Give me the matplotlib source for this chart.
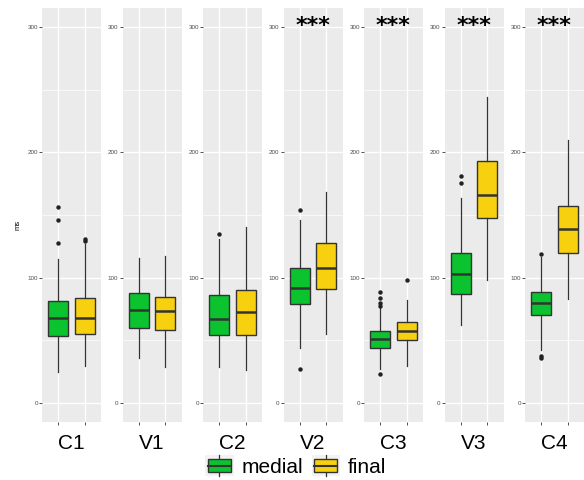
import matplotlib.pyplot as plt
from matplotlib.legend_handler import HandlerBase
from matplotlib.patches import Rectangle
from matplotlib.lines import Line2D

plt.rcParams['font.family'] = ['Liberation Sans', 'DejaVu Sans']

# panels and groups
panels = ['C1', 'V1', 'C2', 'V2', 'C3', 'V3', 'C4']
signif = ['', '', '', '***', '***', '***', '***']
groups = ['medial', 'final']
group_colors = ['#0BC22F', '#F7D10F']

# box stats per panel, [medial, final]
q1 = [[53.5, 55], [60, 58], [54, 54], [79, 91], [44, 50.5], [87, 148], [70, 120]]
med = [[68, 68], [74.5, 73.5], [67, 72.5], [92, 107.5], [51, 57.5], [103, 166], [80, 139]]
q3 = [[81.5, 84], [88, 84.5], [86.5, 90], [108, 128], [57.5, 64.5], [120, 193], [89, 157]]
whislo = [[25, 30], [36, 28.5], [28.5, 26.5], [44, 55.5], [27, 30], [62, 98], [42.5, 83]]
whishi = [[115, 126.5], [116, 117], [131, 140.5], [146, 168], [75.5, 82.5], [163.5, 244], [116.5, 210]]
fliers = [
    [[128, 146, 156], [129.5, 131]],
    [[], []],
    [[134.5], []],
    [[27.5, 154], []],
    [[23.5, 77.5, 79.5, 84, 88.5], [98]],
    [[175.5, 181], []],
    [[36.3, 38, 119], []],
]

W, H = 584, 480
fig = plt.figure(figsize=(W / 100, H / 100), dpi=100)

edge = '#333333'
for i, name in enumerate(panels):
    left = 42 + i * 80.5
    ax = fig.add_axes([left / W, 58 / H, 59 / W, 414 / H])
    ax.set_facecolor('#EBEBEB')
    stats = []
    for g in range(2):
        stats.append(dict(q1=q1[i][g], med=med[i][g], q3=q3[i][g],
                          whislo=whislo[i][g], whishi=whishi[i][g],
                          fliers=fliers[i][g]))
    bp = ax.bxp(stats, positions=[1, 2], widths=0.75, patch_artist=True,
                showcaps=False, zorder=3,
                boxprops=dict(edgecolor=edge, linewidth=1.0),
                medianprops=dict(color=edge, linewidth=1.8),
                whiskerprops=dict(color=edge, linewidth=0.9),
                flierprops=dict(marker='o', markersize=3.2, markerfacecolor='#222222',
                                markeredgecolor='none'))
    for patch, c in zip(bp['boxes'], group_colors):
        patch.set_facecolor(c)

    ax.set_xlim(0.4, 2.6)
    ax.set_ylim(-15, 315)
    ax.set_yticks([0, 100, 200, 300])
    ax.set_yticks([50, 150, 250], minor=True)
    ax.set_xticks([1, 2])
    ax.set_xticklabels([])
    ax.grid(True, which='major', color='white', linewidth=1.0)
    ax.grid(True, which='minor', axis='y', color='white', linewidth=0.5)
    ax.set_axisbelow(True)
    ax.tick_params(axis='both', which='major', length=2, color=edge, width=0.6,
                   labelsize=4.5, labelcolor='#4D4D4D', pad=1)
    ax.tick_params(axis='y', which='minor', length=0)
    for s in ax.spines.values():
        s.set_visible(False)

    ax.text(0.5, -0.03, name, transform=ax.transAxes, ha='center', va='top',
            fontsize=15)
    if signif[i]:
        ax.text(1.5, 301, signif[i], ha='center', va='center', fontsize=16,
                family='DejaVu Sans', fontweight='bold')

fig.text(18 / W, 1 - 225 / H, 'ms', rotation=90, ha='center', va='center', fontsize=5.5)


class BoxKey(HandlerBase):
    def create_artists(self, legend, orig_handle, xd, yd, width, height, fontsize, trans):
        x0, y0 = -xd, -yd
        bg = Rectangle((x0, y0), width, height, facecolor='#F2F2F2', edgecolor='none',
                       transform=trans)
        cx = x0 + width / 2
        bw = width * 0.82
        bh = height * 0.62
        by = y0 + (height - bh) / 2
        w1 = Line2D([cx, cx], [y0, y0 + height], color=edge, linewidth=0.9, transform=trans)
        box = Rectangle((cx - bw / 2, by), bw, bh, facecolor=orig_handle.get_facecolor(),
                        edgecolor=edge, linewidth=1.0, transform=trans)
        m = Line2D([cx - bw / 2, cx + bw / 2], [y0 + height / 2] * 2, color=edge,
                   linewidth=1.5, transform=trans)
        return [bg, w1, box, m]


handles = [Rectangle((0, 0), 1, 1, facecolor=c) for c in group_colors]
fig.legend(handles, groups, handler_map={Rectangle: BoxKey()}, loc='center',
           bbox_to_anchor=(296 / W, 1 - 466 / H), ncol=2, frameon=False,
           fontsize=15, handlelength=1.35, handleheight=1.15, handletextpad=0.4,
           columnspacing=0.4, borderpad=0)

fig.savefig('out.png', dpi=100)
